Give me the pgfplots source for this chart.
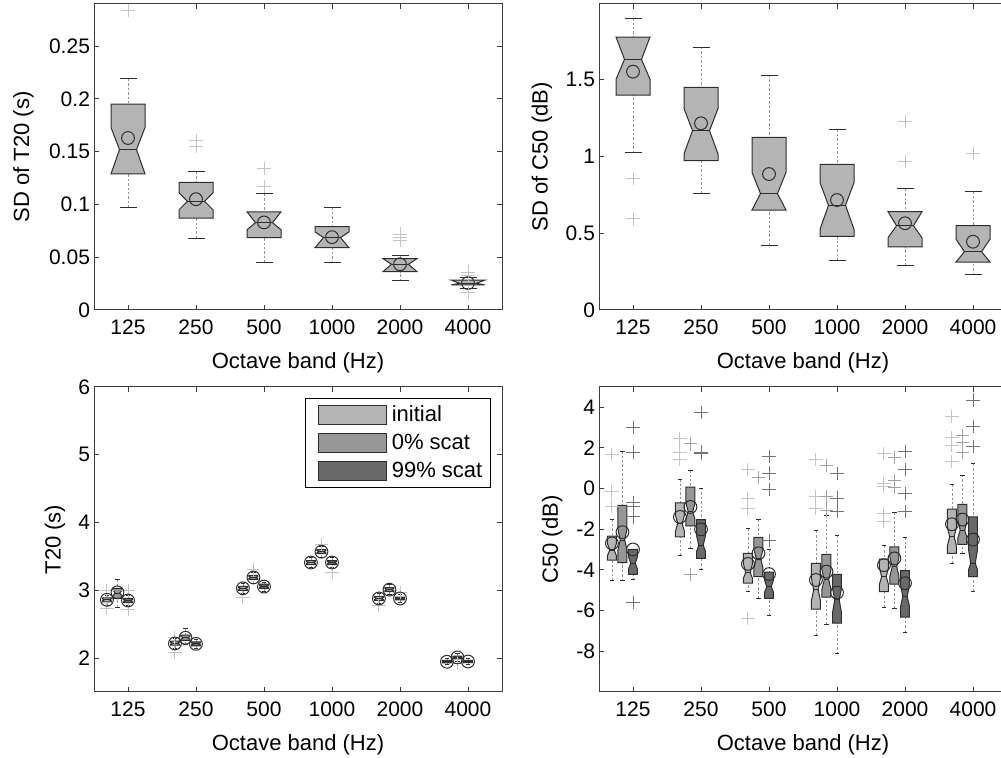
\documentclass[border=0pt]{standalone}
\usepackage{fontspec}
\setmainfont{Liberation Sans}
\usepackage{pgfplots}
\pgfplotsset{compat=1.18}

\definecolor{cInit}{RGB}{180,180,180}
\definecolor{cZero}{RGB}{150,150,150}
\definecolor{cNine}{RGB}{105,105,105}
\definecolor{edge}{RGB}{45,45,45}
\definecolor{axc}{RGB}{60,60,60}
\definecolor{oInit}{RGB}{195,195,195}
\definecolor{oZero}{RGB}{160,160,160}
\definecolor{oNine}{RGB}{115,115,115}

\pgfplotsset{
  whisk/.style={forget plot, draw=gray!85, dash pattern=on 1.2pt off 1pt, line width=0.4pt},
  capl/.style={forget plot, draw=edge, line width=0.5pt},
  boxl/.style={forget plot, draw=edge, line width=0.5pt},
  meanm/.style={forget plot, only marks, mark=o, mark size=3.2pt, mark options={draw=edge, line width=0.5pt, fill=none}},
  outl/.style={forget plot, only marks, mark=+, mark size=3.3pt, mark options={line width=0.5pt}},
  base/.style={
    scale only axis, width=204pt, xmin=0.5, xmax=6.5,
    xtick={1,2,3,4,5,6}, xticklabels={125,250,500,1000,2000,4000},
    tick align=inside, tick pos=both, ticklabel pos=left,
    major tick length=2.5pt,
    axis line style={draw=axc, line width=0.5pt},
    every tick/.style={draw=axc, line width=0.5pt},
    ticklabel style={font=\fontsize{10.5}{12}\selectfont},
    xticklabel style={yshift=-1.5pt},
    yticklabel style={xshift=1.5pt},
    label style={font=\fontsize{11}{13}\selectfont},
    xlabel={Octave band (Hz)},
    xlabel style={at={(axis description cs:0.5,0)}, anchor=center, yshift=-26.5pt},
  }
}

% notched box: x, half-width, lower whisker, q1, notch low, median, notch high, q3, upper whisker
\newcommand{\nbox}[9]{%
  \pgfmathsetmacro\xl{#1-#2}%
  \pgfmathsetmacro\xr{#1+#2}%
  \pgfmathsetmacro\xil{#1-#2/2}%
  \pgfmathsetmacro\xir{#1+#2/2}%
  \edef\doit{%
    \noexpand\addplot[whisk] coordinates {(#1,#9) (#1,#8)};%
    \noexpand\addplot[whisk] coordinates {(#1,#3) (#1,#4)};%
    \noexpand\addplot[capl] coordinates {(\xil,#9) (\xir,#9)};%
    \noexpand\addplot[capl] coordinates {(\xil,#3) (\xir,#3)};%
    \noexpand\addplot[boxl, fill=\bfill] coordinates {(\xl,#4) (\xr,#4) (\xr,#5) (\xir,#6) (\xr,#7) (\xr,#8) (\xl,#8) (\xl,#7) (\xil,#6) (\xl,#5)} -- cycle;%
    \noexpand\addplot[boxl] coordinates {(\xil,#6) (\xir,#6)};%
  }\doit}

\begin{document}
\begin{tikzpicture}
\useasboundingbox (0,0) rectangle (500.5pt,379pt);

% ---------------- top left: SD of T20
\begin{axis}[base, at={(47pt,224pt)}, anchor=south west, height=153pt,
  ymin=0, ymax=0.29, ytick={0,0.05,0.1,0.15,0.2,0.25},
  yticklabels={0,0.05,0.1,0.15,0.2,0.25},
  ylabel={SD of T20 (s)},
  ylabel style={at={(axis description cs:-0.1728,0.5)}, anchor=center}]
\def\bfill{cInit}
\nbox{1}{0.25}{0.097}{0.129}{0.129}{0.152}{0.173}{0.195}{0.219}
\nbox{2}{0.25}{0.068}{0.087}{0.095}{0.103}{0.111}{0.121}{0.131}
\nbox{3}{0.25}{0.045}{0.0686}{0.076}{0.0828}{0.093}{0.093}{0.110}
\nbox{4}{0.25}{0.0446}{0.059}{0.059}{0.0686}{0.074}{0.079}{0.097}
\nbox{5}{0.25}{0.0275}{0.0363}{0.0363}{0.0433}{0.0487}{0.0487}{0.0518}
\nbox{6}{0.25}{0.020}{0.0237}{0.0237}{0.0253}{0.0284}{0.0284}{0.031}
\addplot[meanm] coordinates {(1,0.163) (2,0.105) (3,0.083) (4,0.069) (5,0.0433) (6,0.0255)};
\addplot[outl, color=oInit] coordinates {(1,0.284) (2,0.161) (2,0.155) (3,0.134) (3,0.117)
  (5,0.072) (5,0.069) (5,0.066) (6,0.036) (6,0.033) (6,0.017)};
\end{axis}

% ---------------- top right: SD of C50
\begin{axis}[base, at={(299.5pt,224pt)}, anchor=south west, height=153pt,
  ymin=0, ymax=1.99, ytick={0,0.5,1,1.5}, yticklabels={0,0.5,1,1.5},
  ylabel={SD of C50 (dB)},
  ylabel style={at={(axis description cs:-0.14,0.5)}, anchor=center}]
\def\bfill{cInit}
\nbox{1}{0.25}{1.021}{1.398}{1.50}{1.630}{1.775}{1.775}{1.897}
\nbox{2}{0.25}{0.757}{0.971}{1.015}{1.166}{1.31}{1.448}{1.71}
\nbox{3}{0.25}{0.42}{0.650}{0.650}{0.757}{0.895}{1.123}{1.528}
\nbox{4}{0.25}{0.321}{0.479}{0.525}{0.681}{0.828}{0.947}{1.175}
\nbox{5}{0.25}{0.288}{0.41}{0.47}{0.548}{0.64}{0.64}{0.787}
\nbox{6}{0.25}{0.228}{0.312}{0.312}{0.379}{0.46}{0.548}{0.77}
\addplot[meanm] coordinates {(1,1.55) (2,1.214) (3,0.884) (4,0.715) (5,0.564) (6,0.444)};
\addplot[outl, color=oInit] coordinates {(1,0.856) (1,0.592) (5,1.225) (5,0.965) (6,1.017)};
\end{axis}

% ---------------- bottom left: T20
\begin{axis}[base, at={(47pt,33pt)}, anchor=south west, height=152.5pt,
  ymin=1.5, ymax=6, ytick={2,3,4,5,6}, yticklabels={2,3,4,5,6},
  ylabel={T20 (s)},
  ylabel style={at={(axis description cs:-0.0956,0.5)}, anchor=center},
  legend cell align=left,
  legend style={at={(rel axis cs:1,1)}, anchor=north east, xshift=-5.5pt, yshift=-5.5pt,
    draw=black, line width=0.5pt, font=\fontsize{11}{13}\selectfont,
    row sep=1.5pt, inner xsep=2.5pt, inner ysep=2pt,
    nodes={inner sep=1.6pt}}]
\addlegendimage{legend image code/.code={\path[draw=none, fill=none] (0pt,0pt) -- (39pt,0pt); \draw[fill=cInit, draw=edge, line width=0.5pt] (4pt,-4.75pt) rectangle (38pt,4.75pt);}}
\addlegendentry{initial}
\addlegendimage{legend image code/.code={\path[draw=none, fill=none] (0pt,0pt) -- (39pt,0pt); \draw[fill=cZero, draw=edge, line width=0.5pt] (4pt,-4.75pt) rectangle (38pt,4.75pt);}}
\addlegendentry{0\% scat}
\addlegendimage{legend image code/.code={\path[draw=none, fill=none] (0pt,0pt) -- (39pt,0pt); \draw[fill=cNine, draw=edge, line width=0.5pt] (4pt,-4.75pt) rectangle (38pt,4.75pt);}}
\addlegendentry{99\% scat}
\addplot[outl, color=oInit] coordinates {(0.69,2.73) (0.69,3.0) (1,2.72) (1,3.0) (1.69,2.08) (1.69,2.3)
  (2.69,2.9) (2.845,3.3) (3.845,3.68) (4,3.26) (4.69,2.78) (5,2.97) (5.845,1.92)};
\def\bfill{cInit}
\nbox{0.69}{0.066}{2.78}{2.83}{2.845}{2.86}{2.875}{2.89}{2.93}
\nbox{1.69}{0.066}{2.14}{2.19}{2.205}{2.22}{2.235}{2.25}{2.29}
\nbox{2.69}{0.066}{2.95}{3.00}{3.015}{3.03}{3.045}{3.06}{3.10}
\nbox{3.69}{0.066}{3.33}{3.38}{3.395}{3.41}{3.425}{3.44}{3.48}
\nbox{4.69}{0.066}{2.81}{2.85}{2.865}{2.88}{2.895}{2.91}{2.95}
\nbox{5.69}{0.066}{1.90}{1.93}{1.94}{1.946}{1.955}{1.965}{1.99}
\def\bfill{cZero}
\nbox{0.845}{0.066}{2.75}{2.88}{2.92}{2.96}{3.00}{3.03}{3.16}
\nbox{1.845}{0.066}{2.20}{2.26}{2.28}{2.30}{2.32}{2.34}{2.43}
\nbox{2.845}{0.066}{3.10}{3.16}{3.175}{3.19}{3.205}{3.22}{3.27}
\nbox{3.845}{0.066}{3.49}{3.54}{3.555}{3.57}{3.585}{3.60}{3.65}
\nbox{4.845}{0.066}{2.94}{2.98}{2.995}{3.01}{3.025}{3.04}{3.08}
\nbox{5.845}{0.066}{1.95}{1.99}{2.00}{2.01}{2.02}{2.03}{2.07}
\def\bfill{cNine}
\nbox{1}{0.066}{2.77}{2.82}{2.835}{2.85}{2.865}{2.88}{2.92}
\nbox{2}{0.066}{2.14}{2.18}{2.195}{2.21}{2.225}{2.24}{2.28}
\nbox{3}{0.066}{2.99}{3.03}{3.045}{3.06}{3.075}{3.09}{3.12}
\nbox{4}{0.066}{3.33}{3.38}{3.395}{3.41}{3.425}{3.44}{3.49}
\nbox{5}{0.066}{2.82}{2.86}{2.87}{2.88}{2.89}{2.90}{2.94}
\nbox{6}{0.066}{1.91}{1.935}{1.945}{1.95}{1.955}{1.965}{1.99}
\addplot[meanm] coordinates {(0.69,2.86) (1.69,2.216) (2.69,3.03) (3.69,3.41) (4.69,2.88) (5.69,1.946)};
\addplot[meanm] coordinates {(0.845,2.97) (1.845,2.30) (2.845,3.19) (3.845,3.57) (4.845,3.01) (5.845,2.01)};
\addplot[meanm] coordinates {(1,2.85) (2,2.21) (3,3.055) (4,3.41) (5,2.88) (6,1.95)};
\end{axis}

% ---------------- bottom right: C50
\begin{axis}[base, at={(299.5pt,33pt)}, anchor=south west, height=152.5pt,
  ymin=-10, ymax=5, ytick={-8,-6,-4,-2,0,2,4}, yticklabels={-8,-6,-4,-2,0,2,4},
  ylabel={C50 (dB)},
  ylabel style={at={(axis description cs:-0.115,0.5)}, anchor=center}]
\addplot[outl, color=oInit] coordinates {(0.69,1.68) (0.69,-0.13) (0.69,-0.87)
  (1.69,2.45) (1.69,1.8) (1.69,1.42)
  (2.69,0.93) (2.69,-0.49) (2.69,-0.98) (2.69,-6.37)
  (3.69,1.44) (3.69,-0.41) (3.69,-0.98)
  (4.69,1.71) (4.69,0.24) (4.69,0.11) (4.69,-1.22) (4.69,-1.63)
  (5.69,3.54) (5.69,2.50) (5.69,2.12) (5.69,1.34)};
\addplot[outl, color=oZero] coordinates {(1.845,2.2) (1.845,-4.24) (2.845,0.54)
  (3.845,1.14) (3.845,-0.41) (3.845,-1.09)
  (4.845,1.55) (4.845,0.38) (4.845,0.08)
  (5.845,2.61) (5.845,2.29) (5.845,1.80)};
\addplot[outl, color=oNine] coordinates {(1,3.02) (1,1.8) (1,-0.7) (1,-0.87) (1,-1.39) (1,-5.6)
  (2,3.76) (2,1.8) (2,1.75)
  (3,1.58) (3,0.77) (3,-0.05) (3,-2.53)
  (4,0.73) (4,-0.46) (4,-1.11)
  (5,1.83) (5,0.95) (5,-0.24) (5,-1.11)
  (6,4.36) (6,3.05) (6,2.09)};
\def\bfill{cInit}
\nbox{0.69}{0.066}{-4.51}{-3.51}{-3.3}{-3.02}{-2.7}{-2.33}{-1.52}
\nbox{1.69}{0.066}{-3.30}{-2.37}{-2.1}{-1.71}{-1.3}{-0.70}{0.47}
\nbox{2.69}{0.066}{-5.08}{-4.65}{-4.4}{-4.13}{-3.7}{-3.18}{-1.96}
\nbox{3.69}{0.066}{-7.23}{-5.93}{-5.5}{-4.98}{-4.4}{-3.67}{-2.07}
\nbox{4.69}{0.066}{-5.84}{-5.06}{-4.7}{-4.33}{-3.9}{-3.46}{-2.82}
\nbox{5.69}{0.066}{-3.67}{-3.18}{-2.8}{-2.37}{-1.9}{-1.01}{0.21}
\def\bfill{cZero}
\nbox{0.845}{0.066}{-4.54}{-3.64}{-3.0}{-2.53}{-2.0}{-0.82}{1.84}
\nbox{1.845}{0.066}{-2.92}{-1.83}{-1.5}{-1.14}{-0.7}{0.08}{0.91}
\nbox{2.845}{0.066}{-5.40}{-4.33}{-3.9}{-3.43}{-3.0}{-2.4}{-1.52}
\nbox{3.845}{0.066}{-6.69}{-5.34}{-4.95}{-4.49}{-4.0}{-3.23}{-1.32}
\nbox{4.845}{0.066}{-5.91}{-4.69}{-4.3}{-3.84}{-3.4}{-2.86}{-1.18}
\nbox{5.845}{0.066}{-3.2}{-2.74}{-2.4}{-2.04}{-1.6}{-0.77}{0.67}
\def\bfill{cNine}
\nbox{1}{0.066}{-4.49}{-4.21}{-3.95}{-3.67}{-3.35}{-2.99}{-2.99}
\nbox{2}{0.066}{-4.0}{-3.43}{-3.1}{-2.78}{-2.3}{-1.52}{0.03}
\nbox{3}{0.066}{-6.25}{-5.39}{-5.1}{-4.82}{-4.5}{-4.1}{-2.99}
\nbox{4}{0.066}{-8.13}{-6.61}{-6.1}{-5.47}{-4.9}{-4.21}{-2.32}
\nbox{5}{0.066}{-7.05}{-6.32}{-5.8}{-5.31}{-4.7}{-4.03}{-2.40}
\nbox{6}{0.066}{-5.06}{-4.33}{-4.0}{-3.67}{-3.0}{-1.39}{1.22}
\addplot[meanm] coordinates {(0.69,-2.69) (1.69,-1.39) (2.69,-3.7) (3.69,-4.49) (4.69,-3.76) (5.69,-1.75)};
\addplot[meanm] coordinates {(0.845,-2.14) (1.845,-0.9) (2.845,-3.18) (3.845,-4.08) (4.845,-3.43) (5.845,-1.52)};
\addplot[meanm] coordinates {(1,-2.99) (2,-2.0) (3,-4.2) (4,-5.11) (5,-4.65) (6,-2.5)};
\end{axis}
\end{tikzpicture}
\end{document}
